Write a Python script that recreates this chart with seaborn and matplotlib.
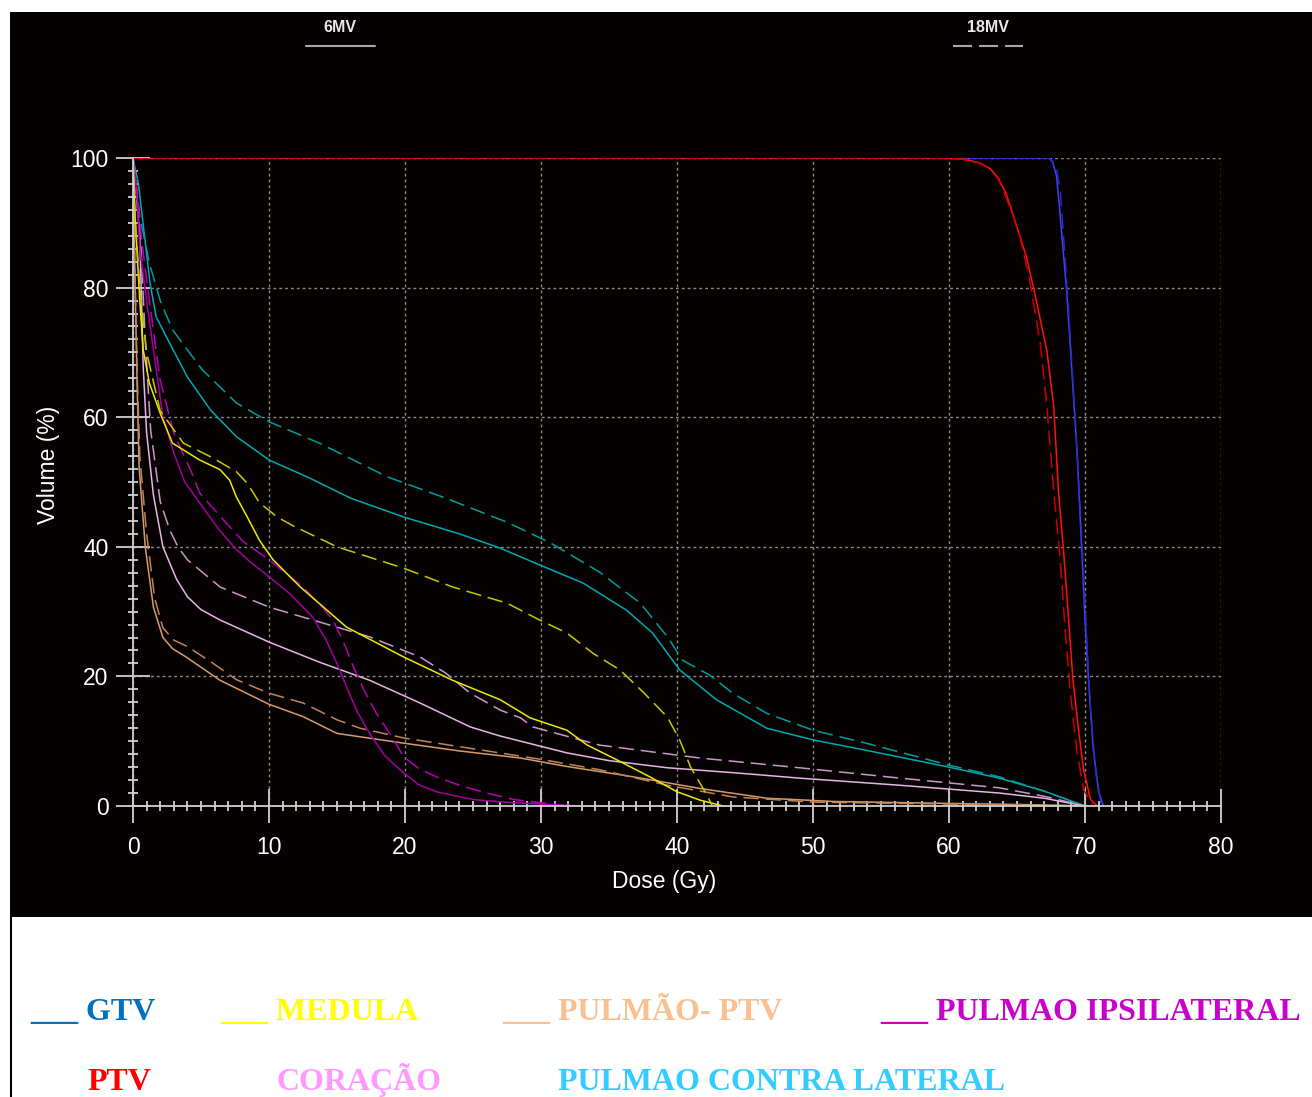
import numpy as np
import pandas as pd
import matplotlib
matplotlib.use("Agg")
import matplotlib.pyplot as plt
from matplotlib.lines import Line2D
from matplotlib.patches import Rectangle
from matplotlib.ticker import MultipleLocator
import seaborn as sns

# ---------------- data (dose in Gy, volume in %) ----------------
GTV_6MV_DOSE = [0, 60, 67.3, 67.6, 67.9, 68.1, 68.3, 68.65, 69.0, 69.4, 69.75, 70.0, 70.25, 70.6, 71.0, 71.35]
GTV_6MV_VOL = [100, 100, 100, 99.5, 97.3, 93, 88, 79.5, 68.3, 55.1, 40, 28.7, 19.8, 8.9, 2.3, 0]
GTV_18MV_DOSE = [0, 60, 67.4, 67.9, 68.2, 68.45, 68.75, 69.1, 69.5, 69.8, 70.1, 70.4, 70.8, 71.2]
GTV_18MV_VOL = [100, 100, 100, 98.5, 94.6, 87, 78, 66, 52, 40, 27, 15, 5, 0]

PTV_6MV_DOSE = [0, 58.6, 61.0, 62.3, 63.0, 63.6, 64.2, 64.7, 65.2, 65.7, 66.4, 67.2, 67.7, 68.05, 68.4, 68.8,
                69.1, 69.5, 69.9, 70.4, 70.9]
PTV_6MV_VOL = [100, 100, 99.9, 99.2, 98.4, 97.0, 94.5, 91.3, 88, 84.7, 78.2, 70.2, 61.7, 48.5, 40, 28.7,
               19.8, 12.2, 5.6, 1.0, 0]
PTV_18MV_DOSE = [0, 58.6, 61.0, 62.2, 63.0, 63.6, 64.0, 64.6, 65.2, 65.9, 66.7, 67.2, 67.7, 68.15, 68.6, 68.95,
                 69.4, 69.9, 70.6]
PTV_18MV_VOL = [100, 100, 99.8, 99.3, 98.3, 96.8, 95, 91.7, 88, 81.5, 71.5, 61.7, 48.5, 38.7, 25.5, 17.0,
                8.5, 2.5, 0]

MEDULA_6MV_DOSE = [0, 0.15, 0.5, 0.75, 1.2, 2.0, 2.9, 4.9, 6.4, 7.1, 7.6, 8.4, 9.3, 10.3, 12.3, 15.7, 19.9,
                   23.5, 27, 29.2, 31.9, 33.4, 35.6, 38, 40, 41.7, 43.4]
MEDULA_6MV_VOL = [100, 91, 78, 70.4, 65.3, 60.6, 56, 53.4, 51.9, 50.3, 47.7, 44.6, 41, 38, 33.8, 27.6, 23,
                  19.4, 16.4, 13.6, 11.7, 9.4, 7.1, 4.5, 2.2, 0.9, 0]
MEDULA_18MV_DOSE = [0, 0.15, 0.5, 1.0, 2.0, 3.7, 5.7, 7.6, 8.4, 9.3, 10.6, 11.8, 15, 19.9, 23.5, 27.5, 29.9,
                    31.9, 33.8, 35.8, 37.5, 39.3, 40.2, 41, 42.2, 42.6]
MEDULA_18MV_VOL = [100, 91, 80, 70, 61, 56, 53.9, 51.6, 49.8, 46.8, 44.6, 43.2, 40, 36.7, 33.8, 31.3, 28.7,
                   26.7, 23.6, 21, 17.6, 13.7, 10.2, 6.0, 1.7, 0]

PULMAO_PTV_6MV_DOSE = [0, 0.15, 0.3, 0.45, 0.9, 1.5, 2.2, 2.9, 3.9, 6.4, 10, 12.5, 15, 19.9, 24, 28.5, 31.9,
                       36.8, 41.7, 46.6, 51.5, 60, 66, 70]
PULMAO_PTV_6MV_VOL = [100, 80.7, 65.3, 52.3, 40, 30.7, 26, 24.3, 23, 19.4, 15.7, 13.8, 11.2, 9.7, 8.5, 7.4,
                      6.1, 4.5, 2.7, 1.2, 0.7, 0.4, 0.2, 0]
PULMAO_PTV_18MV_DOSE = [0, 0.15, 0.3, 0.5, 1.0, 1.6, 2.2, 3.0, 4.0, 5.9, 7.6, 10, 12.5, 15, 16.7, 19.9, 24.8,
                        30, 34.3, 39.3, 44.1, 50, 60, 66, 70]
PULMAO_PTV_18MV_VOL = [100, 82, 67, 54, 42, 32, 27.5, 25.6, 24.6, 22, 19.5, 17.4, 15.9, 13.3, 12.0, 10.5,
                       8.9, 7.2, 5.6, 3.2, 1.4, 0.6, 0.3, 0.15, 0]

IPSI_6MV_DOSE = [0, 0.3, 0.5, 1.0, 1.5, 2.2, 3.0, 3.8, 5.0, 6.2, 7.4, 8.7, 10, 11.5, 13.2, 14.2, 15.0, 15.7,
                 16.5, 17.4, 18.5, 19.9, 21, 22.3, 25, 27.2, 30, 33]
IPSI_6MV_VOL = [100, 93.5, 86, 78, 70.4, 60, 54.5, 50, 46.5, 43, 40, 37.5, 35.4, 32.8, 29.2, 25.6, 22, 18.4,
                14.5, 11.2, 7.8, 5.1, 3.3, 2.2, 1.0, 0.6, 0.3, 0]
IPSI_18MV_DOSE = [0, 0.3, 0.6, 1.2, 2.0, 3.0, 4.3, 4.9, 6.5, 8.1, 10, 12.5, 14.0, 14.7, 15.5, 16.2, 17.0,
                  17.9, 19.0, 19.9, 21, 22.3, 24, 26, 28, 32]
IPSI_18MV_VOL = [100, 95, 88, 78, 65.7, 57.5, 51.5, 48.3, 44.5, 40.8, 38, 33.8, 30.5, 28.7, 25.2, 21.5,
                 17.8, 14.3, 10.8, 7.6, 5.8, 4.5, 3.2, 2.0, 1.0, 0]

CORACAO_6MV_DOSE = [0, 0.5, 0.75, 1.0, 1.5, 2.2, 3.2, 4.0, 5.0, 6.4, 10, 13.7, 17.4, 21.1, 24.8, 27, 28.5,
                    31.9, 35, 39.3, 45, 49, 56.4, 63.7, 67, 70]
CORACAO_6MV_VOL = [100, 88, 67.8, 57.6, 48, 40, 35, 32.3, 30.3, 28.7, 25.3, 22.2, 19.4, 15.9, 12.2, 10.8,
                   10.0, 8.2, 7.0, 5.9, 5.0, 4.3, 3.2, 2.0, 1.2, 0]
CORACAO_18MV_DOSE = [0, 0.5, 0.9, 1.3, 2.0, 2.7, 3.3, 4.0, 6.4, 10, 13.7, 17.4, 21.1, 23.0, 24.8, 27, 28.5,
                     29.4, 34.3, 41.7, 49, 56.4, 63.7, 67, 70]
CORACAO_18MV_VOL = [100, 90, 72, 58, 47, 42.6, 40, 38, 33.8, 30.7, 28.4, 26.1, 23, 20.5, 17.4, 14.8, 13.6,
                    12.2, 9.4, 7.4, 5.9, 4.3, 2.8, 1.5, 0]

CONTRA_6MV_DOSE = [0, 0.4, 0.9, 1.25, 1.7, 2.7, 4.0, 5.7, 7.6, 10, 13, 16, 19.9, 24, 27, 29.9, 33.1, 36.3,
                   38.2, 40.2, 42.9, 46.6, 50, 53.9, 60, 63.7, 67, 70]
CONTRA_6MV_VOL = [100, 96, 87, 80.7, 75.5, 71.4, 66.2, 61.1, 57, 53.4, 50.6, 47.5, 44.6, 42, 39.8, 37.2,
                  34.4, 30.2, 26.7, 21, 16.4, 12, 10.2, 8.6, 6.0, 4.3, 2.3, 0]
CONTRA_18MV_DOSE = [0, 0.5, 1.2, 2.0, 2.9, 5.1, 7.6, 10, 13.7, 18.7, 23, 27.5, 30.7, 34.3, 37.3, 39.3, 40.4,
                    42.4, 44.1, 46.6, 50, 53.9, 60, 63.7, 67, 70]
CONTRA_18MV_VOL = [100, 91, 83.8, 78, 73.5, 67.3, 62.2, 59.3, 56, 50.8, 47.5, 43.8, 40.6, 36.1, 31.3, 26.1,
                   22.5, 20.2, 17.4, 14.3, 11.7, 9.7, 6.3, 4.5, 2.3, 0]

BEAMS = ["6MV", "18MV"]
X_TICKS = [0, 10, 20, 30, 40, 50, 60, 70, 80]
Y_TICKS = [0, 20, 40, 60, 80, 100]
X_LABEL = "Dose (Gy)"
Y_LABEL = "Volume (%)"

LEGEND_LABELS = ["___ GTV", "___ MEDULA", "___ PULMÃO- PTV", "___ PULMAO IPSILATERAL",
                 "PTV", "CORAÇÃO", "PULMAO CONTRA LATERAL"]
LEGEND_COLORS = ["#0070C0", "#FFFF00", "#FAC090", "#CC00CC", "#FF0000", "#FF99FF", "#33CCFF"]

# ---------------- build long table ----------------
series = [
    ("CONTRA", "6MV", CONTRA_6MV_DOSE, CONTRA_6MV_VOL, "#00a8b0"),
    ("CONTRA", "18MV", CONTRA_18MV_DOSE, CONTRA_18MV_VOL, "#009c9c"),
    ("CORACAO", "6MV", CORACAO_6MV_DOSE, CORACAO_6MV_VOL, "#e6b4e6"),
    ("CORACAO", "18MV", CORACAO_18MV_DOSE, CORACAO_18MV_VOL, "#c898c8"),
    ("PULMAO_PTV", "6MV", PULMAO_PTV_6MV_DOSE, PULMAO_PTV_6MV_VOL, "#d89a6a"),
    ("PULMAO_PTV", "18MV", PULMAO_PTV_18MV_DOSE, PULMAO_PTV_18MV_VOL, "#c0845a"),
    ("IPSI", "6MV", IPSI_6MV_DOSE, IPSI_6MV_VOL, "#a000a0"),
    ("IPSI", "18MV", IPSI_18MV_DOSE, IPSI_18MV_VOL, "#b400b4"),
    ("MEDULA", "6MV", MEDULA_6MV_DOSE, MEDULA_6MV_VOL, "#eaea00"),
    ("MEDULA", "18MV", MEDULA_18MV_DOSE, MEDULA_18MV_VOL, "#c8c800"),
    ("GTV", "6MV", GTV_6MV_DOSE, GTV_6MV_VOL, "#4040ff"),
    ("GTV", "18MV", GTV_18MV_DOSE, GTV_18MV_VOL, "#2a2ab8"),
    ("PTV", "6MV", PTV_6MV_DOSE, PTV_6MV_VOL, "#ff1010"),
    ("PTV", "18MV", PTV_18MV_DOSE, PTV_18MV_VOL, "#c80000"),
]
frames = []
palette = {}
order = []
for name, beam, d, v, col in series:
    key = f"{name} {beam}"
    frames.append(pd.DataFrame({"dose": d, "volume": v, "series": key, "beam": beam}))
    palette[key] = col
    order.append(key)
df = pd.concat(frames, ignore_index=True)

# ---------------- figure ----------------
W, H = 1312, 1097
sns.set_theme(style="dark")
plt.rcParams["font.family"] = ["Liberation Sans", "DejaVu Sans"]

fig = plt.figure(figsize=(W / 100, H / 100), dpi=100, facecolor="white")
BG = "#060202"
fig.patches.append(Rectangle((10 / W, 1 - 917 / H), 1 - 10 / W, (917 - 12) / H,
                             transform=fig.transFigure, facecolor=BG, edgecolor="none", zorder=-5))
fig.lines.append(Line2D([10.5 / W, 10.5 / W], [0, 1 - 917 / H], transform=fig.transFigure,
                        color="black", lw=1.5, zorder=-5))

ax = fig.add_axes([133 / W, 1 - 806 / H, 1088 / W, 648 / H])
ax.set_zorder(1)
ax.set_facecolor(BG)

sns.lineplot(data=df, x="dose", y="volume", hue="series", hue_order=order, palette=palette,
             style="beam", style_order=BEAMS, dashes={"6MV": "", "18MV": (10, 4.5)},
             estimator=None, sort=False, legend=False, lw=1.1, ax=ax)

ax.set_xlim(0, 80)
ax.set_ylim(0, 100)
ax.set_xticks(X_TICKS)
ax.set_yticks(Y_TICKS)
ax.xaxis.set_minor_locator(MultipleLocator(1))
ax.yaxis.set_minor_locator(MultipleLocator(2))
ax.set_axisbelow(True)
ax.grid(True, which="major", color="#8a8a8a", linestyle=(0, (2, 2.2)), lw=1.0)
ax.grid(False, which="minor")

AXC = "#cfcfcf"
for s in ["top", "right"]:
    ax.spines[s].set_visible(False)
for s in ["left", "bottom"]:
    ax.spines[s].set_visible(True)
    ax.spines[s].set_color(AXC)
    ax.spines[s].set_linewidth(1.3)

ax.tick_params(which="major", direction="inout", length=24, width=1.3, color=AXC,
               labelcolor="white", labelsize=16.5)
ax.tick_params(which="minor", direction="inout", length=7.5, width=1.3, color=AXC)
ax.tick_params(axis="y", which="major", pad=5.5, left=True)
ax.tick_params(axis="x", which="major", pad=9.5, bottom=True)
ax.tick_params(axis="y", which="minor", left=True)
ax.tick_params(axis="x", which="minor", bottom=True)

ax.set_xlabel(X_LABEL, color="white", fontsize=16.5)
ax.set_ylabel(Y_LABEL, color="white", fontsize=16.5)
ax.xaxis.set_label_coords(0.488, -0.098)
ax.yaxis.set_label_coords(-0.067, 0.526)

# beam key at the top
fig.text(340 / W, 1 - 28 / H, BEAMS[0], color="#e8e8e8", fontsize=11.5, fontweight="bold",
         ha="center", va="center")
fig.text(988 / W, 1 - 28 / H, BEAMS[1], color="#e8e8e8", fontsize=11.5, fontweight="bold",
         ha="center", va="center")
fig.lines.append(Line2D([306 / W, 375 / W], [1 - 46 / H] * 2, transform=fig.transFigure,
                        color="#a8a8a8", lw=1.5))
fig.lines.append(Line2D([953 / W, 1023 / W], [1 - 46 / H] * 2, transform=fig.transFigure,
                        color="#a8a8a8", lw=1.5, linestyle=(0, (9.1, 3.4))))

# structure legend (coloured text)
LEG_POS = [(30, 1020), (220, 1020), (502, 1020), (880, 1020), (87, 1090), (276, 1090), (558, 1090)]
for lab, col, (px, py) in zip(LEGEND_LABELS, LEGEND_COLORS, LEG_POS):
    fig.text(px / W, 1 - py / H, lab, color=col, fontsize=23, fontweight="bold",
             family=["Liberation Serif", "DejaVu Serif"], ha="left", va="baseline")

fig.savefig("out.png", dpi=100, facecolor="white")
